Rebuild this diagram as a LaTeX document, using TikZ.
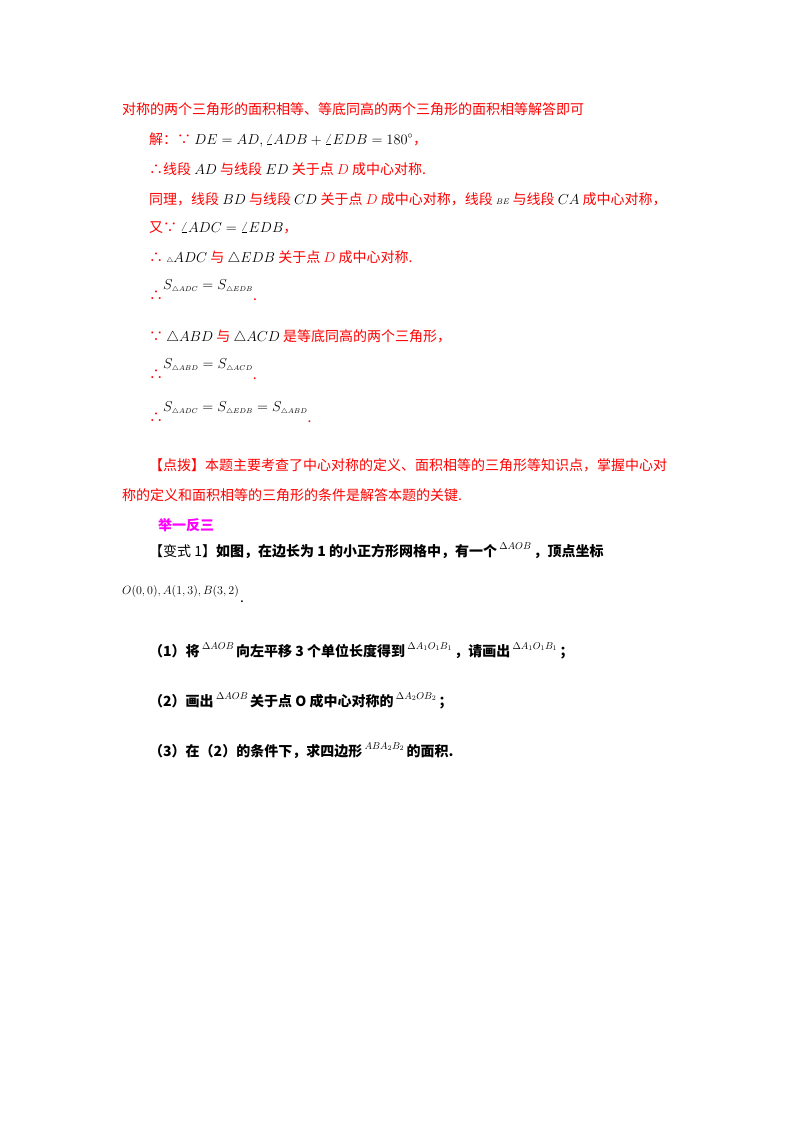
\documentclass[tikz,border=0pt]{standalone}
\usepackage[no-math]{fontspec}
\setmainfont{Noto Sans CJK SC}
\definecolor{rd}{RGB}{255,0,0}
\definecolor{mg}{RGB}{255,0,255}
\newcommand{\up}[1]{\,\raisebox{7pt}{\fontsize{10}{11}\selectfont$#1$}\,}
\begin{document}
\begin{tikzpicture}[x=1pt,y=-1pt,
  txt/.style={anchor=base west,inner sep=0pt,font=\fontsize{14}{16}\selectfont},
  red/.style={txt,text=rd},
  blk/.style={txt,text=black,font=\fontsize{14}{16}\selectfont\bfseries}]
\useasboundingbox (0,0) rectangle (800,1132);
\fill[white] (0,0) rectangle (800,1132);
\node[red] (l1) at (122,114) {对称的两个三角形的面积相等、等底同高的两个三角形的面积相等解答即可};
\node[red] (l2) at (149,144) {解：∵ \textcolor{black}{$DE=AD,\angle ADB+\angle EDB=180^\circ$}，};
\node[red] (l3) at (149,174) {∴线段 \textcolor{black}{$AD$} 与线段 \textcolor{black}{$ED$} 关于点 $D$ 成中心对称.};
\node[red] (l4) at (149,204) {同理，线段 \textcolor{black}{$BD$} 与线段 \textcolor{black}{$CD$} 关于点 $D$ 成中心对称，线段 \textcolor{black}{\footnotesize$BE$} 与线段 \textcolor{black}{$CA$} 成中心对称，};
\node[red] (l5) at (149,232) {又∵ \textcolor{black}{$\angle ADC=\angle EDB$}，};
\node[red] (l6) at (149,262) {∴ \textcolor{black}{$\scriptscriptstyle\triangle\textstyle ADC$} 与 \textcolor{black}{$\triangle EDB$} 关于点 $D$ 成中心对称.};
\node[red] (l7) at (149,300) {∴\raisebox{11pt}{\textcolor{black}{$S_{\scriptscriptstyle\triangle ADC}=S_{\scriptscriptstyle\triangle EDB}$}}.};
\node[red] (l8) at (149,341) {∵ \textcolor{black}{$\triangle ABD$} 与 \textcolor{black}{$\triangle ACD$} 是等底同高的两个三角形，};
\node[red] (l9) at (149,379) {∴\raisebox{11pt}{\textcolor{black}{$S_{\scriptscriptstyle\triangle ABD}=S_{\scriptscriptstyle\triangle ACD}$}}.};
\node[red] (l10) at (149,422) {∴\raisebox{11pt}{\textcolor{black}{$S_{\scriptscriptstyle\triangle ADC}=S_{\scriptscriptstyle\triangle EDB}=S_{\scriptscriptstyle\triangle ABD}$}}.};
\node[red] (l11) at (149,470) {【点拨】本题主要考查了中心对称的定义、面积相等的三角形等知识点，掌握中心对};
\node[red] (l12) at (122,500) {称的定义和面积相等的三角形的条件是解答本题的关键.};
\node[txt,text=mg,font=\fontsize{14}{16}\selectfont\bfseries] (l13) at (158,530) {举一反三};
\node[blk] (l14) at (149,556) {\mdseries【变式 1】\bfseries 如图，在边长为 1 的小正方形网格中，有一个\up{\Delta AOB}，顶点坐标};
\node[txt,font=\fontsize{13}{15}\selectfont] (l15) at (122,594) {$O(0,0),A(1,3),B(3,2)$};
\node[txt,anchor=north west] (d15) at ([xshift=1pt,yshift=-3pt]l15.south east) {.};
\node[blk] (l16) at (149,656) {（1）将\up{\Delta AOB}向左平移 3 个单位长度得到\up{\Delta A_1O_1B_1}，请画出\up{\Delta A_1O_1B_1}；};
\node[blk] (l17) at (149,706) {（2）画出\up{\Delta AOB}关于点 O 成中心对称的\up{\Delta A_2OB_2}；};
\node[blk] (l18) at (149,756) {（3）在（2）的条件下，求四边形\up{ABA_2B_2}的面积.};
\end{tikzpicture}
\end{document}
